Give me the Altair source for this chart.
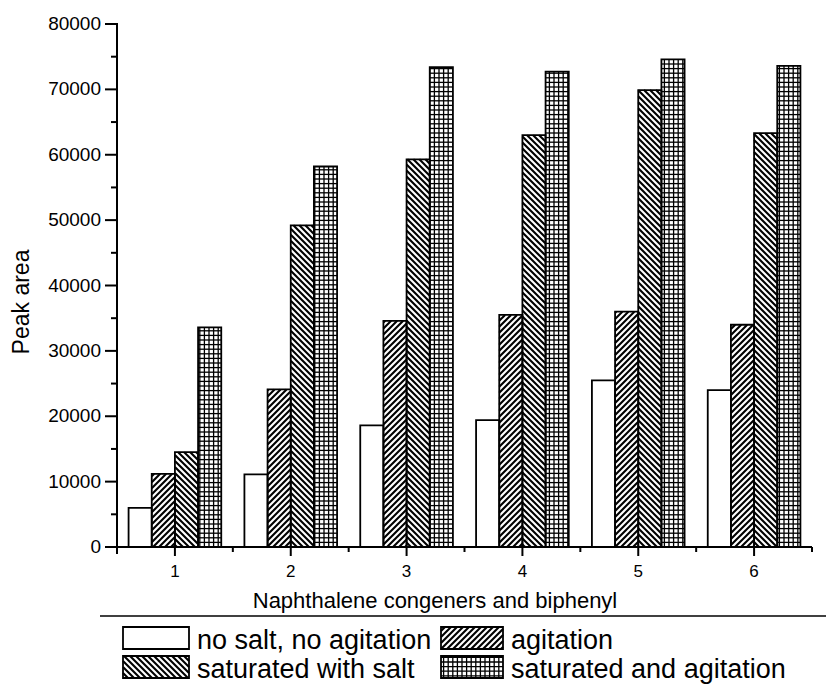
import altair as alt
import numpy as np
import pandas as pd

# ---------------- data ----------------
categories = [1, 2, 3, 4, 5, 6]
series_names = ["no salt, no agitation", "agitation",
                "saturated with salt", "saturated and agitation"]
no_salt_no_agitation = [6000, 11100, 18600, 19400, 25500, 24000]
agitation_only = [11200, 24100, 34600, 35500, 36000, 34000]
saturated_with_salt = [14500, 49200, 59300, 63000, 69900, 63300]
saturated_and_agitation = [33600, 58200, 73400, 72700, 74600, 73600]

y_tick_values = [0, 10000, 20000, 30000, 40000, 50000, 60000, 70000, 80000]
y_minor_values = [5000, 15000, 25000, 35000, 45000, 55000, 65000, 75000]
x_minor_values = [0.5, 1.5, 2.5, 3.5, 4.5, 5.5, 6.5]
x_title = "Naphthalene congeners and biphenyl"
y_title = "Peak area"

series_values = [no_salt_no_agitation, agitation_only,
                 saturated_with_salt, saturated_and_agitation]
series_pattern = ["none", "up", "down", "grid"]

# ---------------- layout / style ----------------
W, H = 695, 523
X_DOMAIN = [0.5, 6.5]
Y_DOMAIN = [0, 80000]
PXX = W / (X_DOMAIN[1] - X_DOMAIN[0])
PXY = H / (Y_DOMAIN[1] - Y_DOMAIN[0])
BAR_W = 0.2
GROUP_START = -0.4
DIAG_STEP = 6.0
GRID_STEP = 4.6
FONT = "Liberation Sans, Arial, Helvetica, sans-serif"


def px_to_x(px):
    return px / PXX + X_DOMAIN[0]


def px_to_y(py_down):
    return (H - py_down) / PXY


def hatch(kind, xa, xb, yb, yt):
    """Texture segments inside the pixel box [xa,xb]x[yb,yt] (y upward)."""
    segs = []
    if kind == "up":
        c = np.floor((yb - xb) / DIAG_STEP) * DIAG_STEP
        while c <= yt - xa:
            lo, hi = max(xa, yb - c), min(xb, yt - c)
            if hi - lo > 0.2:
                segs.append((lo, lo + c, hi, hi + c))
            c += DIAG_STEP
    elif kind == "down":
        c = np.floor((yb + xa) / DIAG_STEP) * DIAG_STEP
        while c <= yt + xb:
            lo, hi = max(xa, c - yt), min(xb, c - yb)
            if hi - lo > 0.2:
                segs.append((lo, c - lo, hi, c - hi))
            c += DIAG_STEP
    elif kind == "grid":
        y = np.floor(yb / GRID_STEP) * GRID_STEP + GRID_STEP
        while y < yt - 0.5:
            segs.append((xa, y, xb, y))
            y += GRID_STEP
        x = np.floor(xa / GRID_STEP) * GRID_STEP + GRID_STEP
        while x < xb - 0.5:
            segs.append((x, yb, x, yt))
            x += GRID_STEP
    return segs


# ---------------- bars + textures ----------------
rect_rows, hatch_rows = [], []
for j, (name, vals, pat) in enumerate(zip(series_names, series_values, series_pattern)):
    for cat, v in zip(categories, vals):
        x0 = cat + GROUP_START + j * BAR_W
        x1 = x0 + BAR_W
        rect_rows.append(dict(series=name, x0=x0, x1=x1, top=v, base=0))
        xa = (x0 - X_DOMAIN[0]) * PXX
        xb = (x1 - X_DOMAIN[0]) * PXX
        yt = v * PXY
        for (ax, ay, bx, by) in hatch(pat, xa, xb, 0.0, yt):
            hatch_rows.append(dict(kind=pat,
                                   hx=px_to_x(ax), hy=ay / PXY,
                                   hx2=px_to_x(bx), hy2=by / PXY))

# ---------------- legend swatches (same scales, below the axis) ----------------
legend_col_x = [6, 324]
legend_col_w = [66, 62]
legend_row_y = [603, 632]
legend_h = 22
legend_text_dx = 8
text_rows = []
for j, (name, pat) in enumerate(zip(series_names, series_pattern)):
    col, row = j % 2, j // 2
    sx0 = legend_col_x[col]
    sx1 = sx0 + legend_col_w[col]
    sy0 = legend_row_y[row]
    sy1 = sy0 + legend_h
    rect_rows.append(dict(series=name, x0=px_to_x(sx0), x1=px_to_x(sx1),
                          top=px_to_y(sy0), base=px_to_y(sy1)))
    text_rows.append(dict(series=name, tx=px_to_x(sx1 + legend_text_dx), ty=px_to_y(sy1)))
    for (ax, ay, bx, by) in hatch(pat, sx0, sx1, H - sy1, H - sy0):
        hatch_rows.append(dict(kind=pat,
                               hx=px_to_x(ax), hy=ay / PXY,
                               hx2=px_to_x(bx), hy2=by / PXY))

rects = pd.DataFrame(rect_rows)
hatches = pd.DataFrame(hatch_rows)
diag_df = hatches[hatches["kind"] != "grid"]
grid_df = hatches[hatches["kind"] == "grid"]
texts = pd.DataFrame(text_rows)

xs = alt.Scale(domain=X_DOMAIN, nice=False, zero=False)
ys = alt.Scale(domain=Y_DOMAIN, nice=False, zero=False)


def X(field):
    return alt.X(field, scale=xs, axis=None)


def Y(field):
    return alt.Y(field, scale=ys, axis=None)


rect_fill = alt.Chart(rects).mark_rect(fill="white").encode(
    x=X("x0:Q"), x2="x1:Q", y=Y("top:Q"), y2="base:Q")
diag_lines = alt.Chart(diag_df).mark_rule(color="black", strokeWidth=2.1, strokeCap="butt").encode(
    x=X("hx:Q"), x2="hx2:Q", y=Y("hy:Q"), y2="hy2:Q")
grid_lines = alt.Chart(grid_df).mark_rule(color="black", strokeWidth=1.3, strokeCap="butt").encode(
    x=X("hx:Q"), x2="hx2:Q", y=Y("hy:Q"), y2="hy2:Q")
rect_outline = alt.Chart(rects).mark_rect(fillOpacity=0, stroke="black", strokeWidth=1.8).encode(
    x=X("x0:Q"), x2="x1:Q", y=Y("top:Q"), y2="base:Q")
leg_text = alt.Chart(texts).mark_text(
    align="left", baseline="alphabetic", font=FONT, fontSize=27, color="black").encode(
    x=X("tx:Q"), y=Y("ty:Q"), text="series:N")

# ---------------- axes drawn from the tick arrays ----------------
y_ticks_df = pd.DataFrame({"v": y_tick_values, "label": [str(v) for v in y_tick_values]})
x_ticks_df = pd.DataFrame({"v": categories, "label": [str(c) for c in categories]})

y_major = alt.Chart(y_ticks_df).mark_rule(color="black", strokeWidth=2).encode(
    y=Y("v:Q"), x=alt.value(-12), x2=alt.value(0))
y_labels = alt.Chart(y_ticks_df).mark_text(
    align="right", baseline="middle", font=FONT, fontSize=19, color="black").encode(
    y=Y("v:Q"), x=alt.value(-16), text="label:N")
y_minor = alt.Chart(pd.DataFrame({"v": y_minor_values})).mark_rule(
    color="black", strokeWidth=2).encode(
    y=Y("v:Q"), x=alt.value(-6), x2=alt.value(0))

x_major = alt.Chart(x_ticks_df).mark_rule(color="black", strokeWidth=2).encode(
    x=X("v:Q"), y=alt.value(H), y2=alt.value(H + 9))
x_labels = alt.Chart(x_ticks_df).mark_text(
    align="center", baseline="middle", font=FONT, fontSize=17, color="black").encode(
    x=X("v:Q"), y=alt.value(H + 25), text="label:N")
x_minor = alt.Chart(pd.DataFrame({"v": x_minor_values})).mark_rule(
    color="black", strokeWidth=2).encode(
    x=X("v:Q"), y=alt.value(H), y2=alt.value(H + 5))

y_domain = alt.Chart(pd.DataFrame({"v": [0]})).mark_rule(color="black", strokeWidth=2).encode(
    x=alt.value(0), y=alt.value(-1), y2=alt.value(H + 7))
x_domain = alt.Chart(pd.DataFrame({"v": [0]})).mark_rule(color="black", strokeWidth=2).encode(
    x=alt.value(-7), x2=alt.value(W), y=alt.value(H))

y_title_mark = alt.Chart(pd.DataFrame({"t": [y_title]})).mark_text(
    angle=270, align="center", baseline="middle", font=FONT, fontSize=23, color="black").encode(
    x=alt.value(-95), y=alt.value(278), text="t:N")
x_title_mark = alt.Chart(pd.DataFrame({"t": [x_title]})).mark_text(
    align="center", baseline="middle", font=FONT, fontSize=22, color="black").encode(
    x=alt.value(318), y=alt.value(H + 54), text="t:N")

legend_line = alt.Chart(pd.DataFrame({"v": [0]})).mark_rule(color="black", strokeWidth=1.6).encode(
    x=alt.value(-17), x2=alt.value(709), y=alt.value(592))

chart = alt.layer(
    rect_fill, diag_lines, grid_lines, rect_outline,
    y_domain, x_domain, y_major, y_minor, y_labels, x_major, x_minor, x_labels,
    y_title_mark, x_title_mark,
    leg_text, legend_line,
).properties(
    width=W, height=H,
    autosize=alt.AutoSizeParams(type="none"),
    padding={"left": 117, "top": 24, "right": 14, "bottom": 147},
    background="white",
).configure_view(strokeWidth=0)

chart.save("out.html", embed_options={"renderer": "svg", "actions": False})
